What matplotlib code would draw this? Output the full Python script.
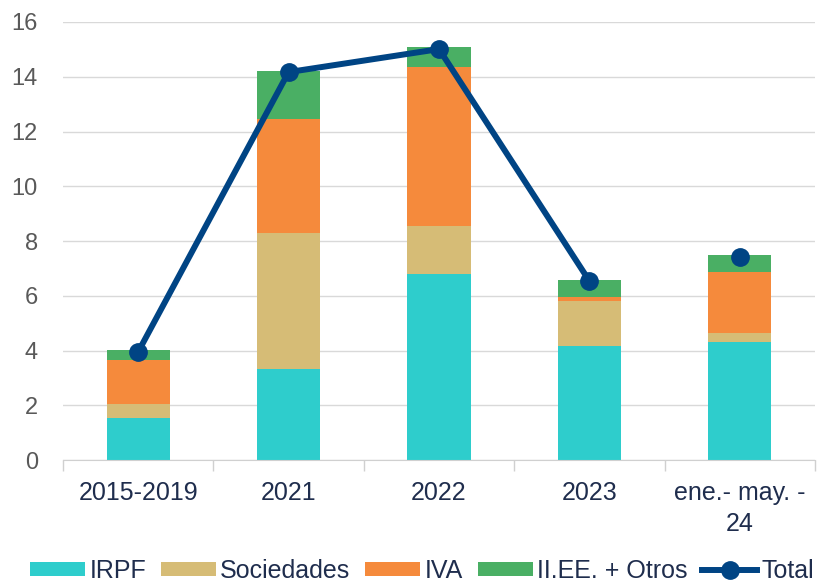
import matplotlib.pyplot as plt
import numpy as np

# Data
categories = ['2015-2019', '2021', '2022', '2023', 'ene.- may. -\n24']
irpf = [1.53, 3.32, 6.79, 4.16, 4.31]
sociedades = [0.52, 4.97, 1.76, 1.65, 0.33]
iva = [1.60, 4.17, 5.81, 0.14, 2.23]
otros = [0.37, 1.75, 0.73, 0.63, 0.62]
total = [3.95, 14.17, 15.01, 6.54, 7.42]

series = [('IRPF', irpf, '#2ECDCC'),
          ('Sociedades', sociedades, '#D6BC76'),
          ('IVA', iva, '#F58A3C'),
          ('II.EE. + Otros', otros, '#4AAF64')]

plt.rcParams['font.family'] = ['Liberation Sans', 'DejaVu Sans']

fig = plt.figure(figsize=(8.21, 5.82), dpi=100)
ax = fig.add_axes([0.0767, 0.2096, 0.916, 0.7526])

x = np.arange(len(categories))
bottom = np.zeros(len(categories))
for name, vals, color in series:
    ax.bar(x, vals, width=0.42, bottom=bottom, color=color, label=name, zorder=2)
    bottom += np.array(vals)

# line joins the annual points only; the partial-year point stands alone
ax.plot(x[:4], total[:4], color='#004484', linewidth=4.3, marker='o',
        markersize=12.5, label='Total', zorder=3)
ax.plot(x[4:], total[4:], color='#004484', linestyle='none', marker='o',
        markersize=12.5, zorder=3)

ax.set_ylim(0, 16)
ax.set_yticks(range(0, 17, 2))
ax.set_xlim(-0.5, len(categories) - 0.5)
ax.set_xticks(x)
ax.set_xticklabels(categories, color='#1F2D4D', fontsize=18, linespacing=1.4)
ax.set_xticks(np.arange(-0.5, len(categories), 1), minor=True)
ax.tick_params(axis='x', which='major', length=0, pad=15)
ax.tick_params(axis='x', which='minor', length=8, color='#D0D0D0', width=1)
ax.tick_params(axis='y', length=0, labelsize=17, labelcolor='#595959', pad=18)

ax.yaxis.grid(True, color='#D9D9D9', linewidth=1, zorder=0)
ax.set_axisbelow(True)
for side in ['top', 'right', 'left']:
    ax.spines[side].set_visible(False)
ax.spines['bottom'].set_color('#D0D0D0')

handles, labels = ax.get_legend_handles_labels()
order = [1, 2, 3, 4, 0]
fig.legend([handles[i] for i in order], [labels[i] for i in order],
           loc='center', bbox_to_anchor=(0.514, 0.019), ncol=5,
           frameon=False, fontsize=18, handlelength=2.2, handleheight=0.52,
           handletextpad=0.16, columnspacing=0.6, borderpad=0.0,
           labelcolor='#1F2D4D')

plt.savefig('out.png', dpi=100)
